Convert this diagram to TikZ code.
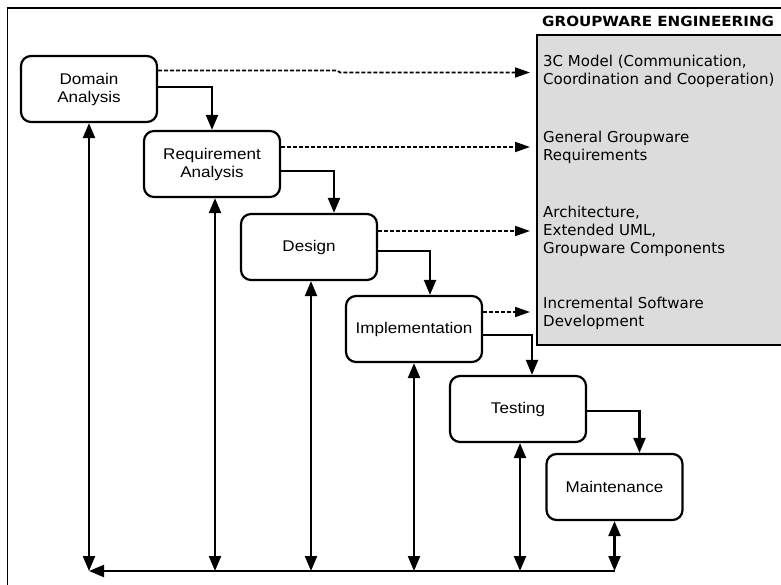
\documentclass[tikz,border=0pt]{standalone}
\usepackage{fontspec}
\usetikzlibrary{arrows.meta}
% Fonts: phase boxes, side notes, and the panel heading
\newfontfamily\stepfont[FakeStretch=1.1]{Liberation Sans}
\newfontfamily\notefont{DejaVu Sans}
\newfontfamily\titlefont[FakeStretch=1.08]{DejaVu Sans}
\definecolor{gwgray}{RGB}{220,220,220}

\begin{document}
\begin{tikzpicture}[x=1pt,y=-1pt,
  phase/.style={draw, line width=2.2pt, rounded corners=10pt,
    minimum width=136pt, minimum height=66pt, align=center, inner sep=0pt,
    font=\stepfont\fontsize{15.5}{18}\selectfont},
  flow/.style={line width=2.2pt, -{Triangle[length=15pt,width=12pt]}},
  both/.style={line width=2.2pt,
    {Triangle[length=15pt,width=12pt]}-{Triangle[length=15pt,width=12pt]}},
  link/.style={line width=1.8pt, dash pattern=on 4pt off 2pt,
    -{Triangle[length=15pt,width=10pt]}, shorten >=6pt},
  note/.style={anchor=west, align=left, inner sep=0pt,
    font=\notefont\fontsize{15}{18}\selectfont}]

\useasboundingbox (0,0) rectangle (781,585);

% outer frame
\draw[line width=1.5pt] (800,8) -- (7.5,8) -- (7.5,600);

% groupware engineering panel
\node[draw, fill=gwgray, line width=2pt, anchor=north west,
      minimum width=270pt, minimum height=310pt, inner sep=0pt] (gw) at (536,34) {};
\node[anchor=base west, inner sep=0pt,
      font=\titlefont\bfseries\fontsize{14}{16}\selectfont] (title) at (542,26.5)
      {GROUPWARE ENGINEERING};

\node[note] (n1) at (543,71.5) {3C Model (Communication,\\Coordination and Cooperation)};
\node[note] (n2) at (543,147.5) {General Groupware\\Requirements};
\node[note] (n3) at (543,231.5) {Architecture,\\Extended UML,\\Groupware Components};
\node[note] (n4) at (543,313) {Incremental Software\\Development};

% process phases
\node[phase] (dom) at (89,89)    {Domain\\Analysis};
\node[phase] (req) at (212,164)  {Requirement\\Analysis};
\node[phase] (des) at (309,247)  {Design};
\node[phase] (imp) at (414,329)  {Implementation};
\node[phase] (tst) at (518,409)  {Testing};
\node[phase] (mnt) at (614.5,487) {Maintenance};

% waterfall flow
\draw[flow] ([yshift=2pt]dom.east)  -| (req.north);
\draw[flow] ([yshift=-7pt]req.east) -| ([xshift=25pt]des.north);
\draw[flow] ([yshift=-4pt]des.east) -| ([xshift=16pt]imp.north);
\draw[flow] ([yshift=-6pt]imp.east) -| ([xshift=14pt]tst.north);
\draw[flow] ([yshift=-2pt]tst.east) -| ([xshift=25pt]mnt.north);

% links to groupware engineering topics
\draw[link] ([yshift=18.5pt]dom.east) -- ++(179,0) -- ++(3,2) coordinate (kink)
            -- (kink -| gw.west);
\draw[link] ([yshift=17pt]req.east) -- ([yshift=17pt]req.east -| gw.west);
\draw[link] ([yshift=16pt]des.east) -- ([yshift=16pt]des.east -| gw.west);
\draw[link] ([yshift=17pt]imp.east) -- ([yshift=17pt]imp.east -| gw.west);

% feedback loop along the bottom
\coordinate (base) at (0,571);
\draw[both] (dom.south) -- (dom.south |- base);
\draw[both] ([xshift=3pt]req.south) -- ([xshift=3pt]req.south |- base);
\draw[both] ([xshift=2pt]des.south) -- ([xshift=2pt]des.south |- base);
\draw[both] (imp.south) -- (imp.south |- base);
\draw[both] ([xshift=2pt]tst.south) -- ([xshift=2pt]tst.south |- base);
\draw[both] (mnt.south) -- (mnt.south |- base);
\draw[flow] (mnt.south |- base) -- (dom.south |- base);
\end{tikzpicture}
\end{document}
